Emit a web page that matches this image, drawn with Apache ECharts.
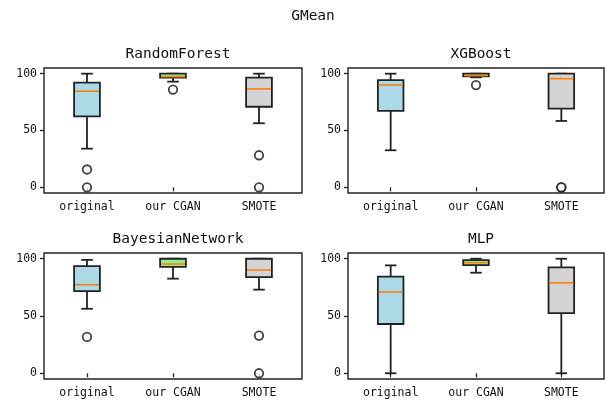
<!DOCTYPE html>
<html><head><meta charset="utf-8">
<script src="https://cdn.jsdelivr.net/npm/echarts@6/dist/echarts.min.js"></script>
<style>html,body{margin:0;padding:0;background:#fff}#c{width:607px;height:407px}</style>
</head><body><div id="c"></div>
<script>
const mainTitle = 'GMean';
const categories = ['original', 'our CGAN', 'SMOTE'];
const models = ['RandomForest', 'XGBoost', 'BayesianNetwork', 'MLP'];
const yTicks = [0, 50, 100];
// box stats per category: [lower whisker, Q1, median, Q3, upper whisker]
const rfBoxes = [[34, 62.5, 84.6, 92.1, 100], [93, 96.6, 97.4, 100, 100], [56.4, 70.9, 86.6, 96.5, 100]];
const rfOutliers = [[15.7, 0], [86], [28.2, 0]];
const xgbBoxes = [[32.6, 67.2, 90, 94.4, 100], [96.8, 97.7, 98.3, 100, 100], [58.4, 69.2, 95.6, 100, 100]];
const xgbOutliers = [[], [90], [0, 0]];
const bnBoxes = [[56.3, 71.7, 77.3, 93.5, 99], [82.6, 92.8, 95.4, 100, 100], [73, 84, 90.1, 100, 100]];
const bnOutliers = [[31.7], [], [32.9, 0]];
const mlpBoxes = [[0, 43, 71, 84.3, 94.2], [87.8, 94.5, 96.5, 98.8, 100], [0, 52.5, 78.9, 92.5, 100]];
const mlpOutliers = [[], [], []];

const allBoxes = [rfBoxes, xgbBoxes, bnBoxes, mlpBoxes];
const allOutliers = [rfOutliers, xgbOutliers, bnOutliers, mlpOutliers];

const fills = ['#add8e6', '#90ee90', '#d3d3d3'];
const edge = '#222';
const medianColor = '#ff7f0e';
const FONT = 'DejaVu Sans Mono';
const TXT = '#111';

const grids = [
  {left: 44, top: 68, width: 258, height: 125},
  {left: 348, top: 68, width: 256, height: 125},
  {left: 44, top: 253, width: 258, height: 126},
  {left: 348, top: 253, width: 256, height: 126}
];

function renderBox(params, api) {
  const i = api.value(0);
  const mn = api.coord([i, api.value(1)]);
  const q1 = api.coord([i, api.value(2)]);
  const md = api.coord([i, api.value(3)]);
  const q3 = api.coord([i, api.value(4)]);
  const mx = api.coord([i, api.value(5)]);
  const bw = api.size([1, 0])[0] * 0.3;
  const cw = bw * 0.45;
  const x = mn[0];
  const ls = {stroke: edge, lineWidth: 1.8, fill: null};
  return {
    type: 'group',
    children: [
      {type: 'line', shape: {x1: x, y1: mn[1], x2: x, y2: q1[1]}, style: ls},
      {type: 'line', shape: {x1: x, y1: q3[1], x2: x, y2: mx[1]}, style: ls},
      {type: 'line', shape: {x1: x - cw / 2, y1: mn[1], x2: x + cw / 2, y2: mn[1]}, style: ls},
      {type: 'line', shape: {x1: x - cw / 2, y1: mx[1], x2: x + cw / 2, y2: mx[1]}, style: ls},
      {type: 'rect', shape: {x: x - bw / 2, y: q3[1], width: bw, height: q1[1] - q3[1]},
        style: {fill: fills[i], stroke: edge, lineWidth: 1.8}},
      {type: 'line', shape: {x1: x - bw / 2 + 0.9, y1: md[1], x2: x + bw / 2 - 0.9, y2: md[1]},
        style: {stroke: medianColor, lineWidth: 1.6}}
    ]
  };
}

const title = [{text: mainTitle, left: 308, top: 4, textAlign: 'center',
  textStyle: {fontFamily: FONT, fontSize: 14.5, fontWeight: 'normal', color: TXT}}];
const xAxis = [], yAxis = [], series = [];
grids.forEach((g, k) => {
  title.push({text: models[k], left: g.left + g.width / 2, top: g.top - 26, textAlign: 'center',
    textStyle: {fontFamily: FONT, fontSize: 14.5, fontWeight: 'normal', color: TXT}});
  xAxis.push({type: 'category', gridIndex: k, data: categories, boundaryGap: true,
    axisLine: {show: false},
    axisTick: {show: true, alignWithLabel: true, length: 4, lineStyle: {color: edge, width: 1.3}},
    axisLabel: {fontFamily: FONT, fontSize: 11.5, color: TXT, margin: 8}});
  yAxis.push({type: 'value', gridIndex: k, min: -5, max: 105,
    splitLine: {show: false}, axisLine: {show: false},
    axisTick: {show: true, length: 4, customValues: yTicks, lineStyle: {color: edge, width: 1.3}},
    axisLabel: {fontFamily: FONT, fontSize: 11.5, color: TXT, margin: 7, customValues: yTicks}});
  series.push({type: 'custom', xAxisIndex: k, yAxisIndex: k,
    data: allBoxes[k].map((b, i) => [i].concat(b)),
    encode: {x: 0, y: [1, 2, 3, 4, 5]}, renderItem: renderBox, z: 2});
  const pts = [];
  allOutliers[k].forEach((arr, i) => arr.forEach(v => pts.push([i, v])));
  series.push({type: 'scatter', xAxisIndex: k, yAxisIndex: k, data: pts,
    symbol: 'circle', symbolSize: 8.5, z: 3,
    itemStyle: {color: '#fff', borderColor: '#111', borderWidth: 1.8}});
});

const chart = echarts.init(document.getElementById('c'), null, {renderer: 'canvas'});
chart.setOption({
  backgroundColor: '#fff',
  animation: false,
  title: title,
  grid: grids.map(g => Object.assign({show: true, borderColor: edge, borderWidth: 1.4, backgroundColor: 'transparent'}, g)),
  xAxis: xAxis, yAxis: yAxis, series: series
});
</script></body></html>
